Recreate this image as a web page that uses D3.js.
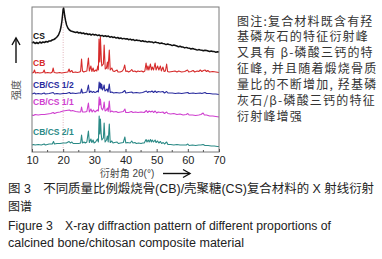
<!DOCTYPE html>
<html><head><meta charset="utf-8">
<script src="https://cdn.jsdelivr.net/npm/d3@7"></script>
<style>
html,body{margin:0;padding:0;background:#fff;}
svg{display:block;}
</style></head>
<body>
<svg id="c" width="382" height="259"></svg>
<script>
// ---- data (2θ in degrees, intensity in arbitrary stacked units) ----
const xTicks = [10, 20, 30, 40, 50, 60, 70];
const seriesNames = ["CS", "CB", "CB/CS 1/2", "CB/CS 1/1", "CB/CS 2/1"];
const seriesColors = ["#111111", "#d62b2b", "#2a2c9e", "#cf3fcf", "#2b8a86"];
const labelPos = [113, 86, 64, 47, 17]; // label heights in intensity units

const csData = [[10,109],[10.5,110],[11,108.5],[11.5,109.5],[12,108.5],[12.5,110],[13,109],[13.5,110],[14,109.5],[14.5,110.5],[15,110],[15.5,111],[16,111],[16.5,112],[17,112.5],[17.5,113.5],[18,115],[18.5,117],[19,121],[19.3,125],[19.6,131],[19.8,137],[20,143],[20.15,144],[20.3,141],[20.5,136],[20.8,131],[21.1,127],[21.5,124],[22,122],[22.5,121],[23,120.5],[23.5,120],[24,119.5],[24.5,120],[25,119],[25.5,119.5],[26,118.5],[26.5,119],[27,118],[27.5,118.5],[28,117.5],[28.5,118],[29,117],[29.5,117.8],[30,117],[30.5,117.5],[31,116.4],[31.5,117],[32,116],[32.5,116.6],[33,115.6],[33.5,116.2],[34,115.5],[34.5,115.9],[35,114.8],[35.5,115.4],[36,114.5],[36.5,114.9],[37,113.9],[37.5,114.5],[38,113.5],[38.5,114],[39,113.1],[39.5,113.6],[40,113],[40.5,113.3],[41,112.3],[41.5,112.9],[42,112],[42.5,112.4],[43,111.4],[43.5,112],[44,111.5],[44.5,111.6],[45,110.6],[45.5,111.2],[46,110.5],[46.5,110.7],[47,109.9],[47.5,110.5],[48,110],[48.5,110.1],[49,109.2],[49.5,109.9],[50,109.5],[50.5,109.3],[51,108.4],[51.5,109],[52,108.5],[52.5,108.2],[53,107.4],[53.5,108],[54,107.5],[54.5,107.2],[55,106.4],[55.5,107],[56,106.5],[56.5,106],[57,105.2],[57.5,105.8],[58,105],[58.5,104.9],[59,104.1],[59.5,104.6],[60,104],[60.5,103.8],[61,103],[61.5,103.5],[62,103],[62.5,102.6],[63,101.9],[63.5,102.4],[64,102],[64.5,101.8],[65,101.2],[65.5,101.8],[66,101.5],[66.5,101],[67,100.5],[67.5,101],[68,100.5],[68.5,100.4],[69,99.8],[69.5,100.3],[70,100]];

const cbData = [[10,79],[10.5,79.5],[10.8,82],[11.1,79],[11.8,79.5],[12.5,79],[13.5,79.5],[13.9,82],[14.2,79],[15,79.5],[16,79],[16.5,80],[16.8,84],[17.1,79.5],[18,79],[18.9,79.5],[19.5,79],[20.5,79.5],[21.5,80],[21.9,83],[22.2,80],[22.8,81.5],[23.1,79.5],[24,80],[24.5,79.5],[25.3,80],[25.6,81],[25.9,93],[26.2,81],[26.6,80],[27,80.5],[27.6,81],[28.1,94],[28.4,81],[28.9,86],[29.2,80.5],[29.6,84],[29.9,80.5],[30.5,82],[30.8,81],[31.1,86],[31.3,82],[31.5,113],[31.75,90],[31.95,115],[32.25,92],[32.4,86],[32.9,88],[33.15,107],[33.5,83],[33.9,84],[34.2,90],[34.4,83],[34.8,102],[35.1,82],[35.6,84],[36,81],[36.4,80.5],[37.3,82],[37.6,80],[38.3,80],[39,81],[39.4,83],[39.75,87],[40.1,80.5],[40.5,81],[41,80],[41.6,81],[42,82.5],[42.4,80.5],[43,81],[43.5,80],[44,81],[44.5,80.5],[45.2,81],[45.7,80],[46.2,81],[46.6,89],[46.9,82],[47.2,86],[47.5,82],[48,88],[48.3,82],[48.6,85],[49,82],[49.5,89],[49.8,82],[50.3,86],[50.7,82],[51.2,86],[51.5,81],[52,85],[52.4,80.5],[52.8,81],[53.2,88],[53.5,80.5],[54,80],[55,80.5],[55.9,81],[56.5,80],[57.1,81],[58,80],[59,80.5],[59.9,82],[60.3,80],[61,80.5],[61.7,81.5],[62.2,80],[63,81],[63.5,80.5],[64,82],[64.5,80.5],[65,81.5],[65.5,82],[66,80.5],[66.4,81.5],[67,80],[68,80.5],[69,80],[70,79.5]];

const cbcs12Data = [[10,58],[10.8,59],[11.2,58],[12,58.5],[13,58],[13.9,59],[14.3,58],[15.5,58.5],[16.8,59.5],[17.2,58],[18,58.5],[19,58],[20,58.5],[21,58.5],[22,59.5],[22.4,58.5],[23,59],[24,58.5],[25,59],[25.6,59],[25.9,63],[26.2,59],[27,59.5],[27.6,60],[28.1,67],[28.4,59.5],[28.9,61],[29.3,59.5],[29.7,60.5],[30.2,59.5],[30.6,60],[31,61],[31.3,60],[31.55,70],[31.75,64],[31.95,69],[32.15,63],[32.35,68],[32.6,62],[32.9,64],[33.15,67],[33.4,61],[33.8,62],[34.1,63],[34.4,60],[34.8,68],[35.1,59.5],[35.6,60],[36.2,59],[37,59.5],[38,59],[39,59.5],[39.8,61.5],[40.1,59],[41,59.5],[42,60],[42.4,59],[43.5,59.5],[44.5,59],[45.5,59.5],[46.7,61],[47.1,59.5],[47.5,60.5],[48,60],[48.5,61],[49,59.5],[49.5,61],[50,59.5],[50.5,60.5],[51.2,60],[52,60.5],[52.5,59],[53.2,60.5],[53.6,59],[55,59],[56,58.5],[57,59],[58,58.5],[59,59],[60,59.5],[60.4,58.5],[61.7,59],[62.5,58.5],[64,59],[64.5,58.5],[65.5,59.5],[66,58.5],[67,58.5],[68,58],[69,58],[70,57.5]];

const cbcs11Data = [[10,37],[10.5,36.5],[11,37.5],[12,37],[13,37.5],[14,37.5],[15,38],[16,38.5],[16.8,39.5],[17.2,38.5],[18,39.5],[19,40],[20,41],[21,41.5],[22,42],[22.5,41],[23,41.5],[24,40.5],[25,40],[25.6,40],[25.9,45],[26.2,40],[27,40],[27.6,40.5],[28.1,49],[28.4,40],[28.9,43],[29.3,40],[29.7,42],[30.2,40],[30.6,41],[31,42],[31.3,41],[31.55,55],[31.75,47],[31.95,53],[32.25,44],[32.6,42],[32.9,44],[33.15,50],[33.45,41],[33.9,42],[34.2,44],[34.45,40.5],[34.8,51],[35.1,40],[35.6,41],[36.2,40],[37,40.5],[37.6,39.5],[38.5,40],[39.3,40.5],[39.8,43],[40.1,39.5],[41,39.5],[41.9,40.5],[42.4,39.5],[43.2,40],[44,39.5],[45,40],[46,39.5],[46.7,41.5],[47.1,39.5],[47.6,41],[48.1,40],[48.6,41],[49,39.5],[49.5,41],[50,39],[50.5,40],[51.2,39.5],[52,40],[52.5,38.5],[53.2,40],[53.6,38.5],[54.5,38],[55.5,38.5],[56.5,37.5],[57.5,38],[58.5,37],[59.5,37.5],[60,38.5],[60.4,37],[61.5,37],[62.5,36.5],[63.5,37],[64.2,37.5],[64.9,39],[65.3,37],[66,37],[67,36],[68,36],[69,35.5],[70,35]];

const cbcs21Data = [[10,7],[10.5,7.5],[11,7],[12,7.5],[13,7],[13.9,8],[14.3,7],[15.5,8],[16.5,8],[16.9,10.5],[17.2,8],[18,8.5],[19,8.5],[20,9],[21,9],[21.9,10.5],[22.3,9],[22.8,10],[23.2,8.5],[24,8.5],[25,8.5],[25.6,9],[25.9,17],[26.2,9],[26.7,10],[27.1,9],[27.6,10],[28.1,21],[28.4,9.5],[28.9,13],[29.2,9.5],[29.6,12],[29.9,9],[30.4,10],[31,13],[31.3,10],[31.55,36],[31.75,18],[31.95,33],[32.2,18],[32.4,12],[32.9,14],[33.15,29],[33.45,10],[33.9,12],[34.2,16],[34.45,10],[34.8,28],[35.1,9.5],[35.6,11],[36,9],[36.5,9.5],[37.3,10],[37.7,8.5],[38.4,9],[39.3,9.5],[39.8,15],[40.1,9],[40.6,9.5],[41.5,9],[42,11],[42.4,9],[43,9.5],[43.5,8.5],[44.2,9],[45,8.5],[45.5,9],[46,9],[46.6,12.5],[46.9,10],[47.3,12],[47.6,10],[48,12.5],[48.3,10],[48.6,12],[49,10],[49.5,12],[49.8,9.5],[50.3,11],[50.7,9],[51.2,10.5],[51.6,8.5],[52.1,9.5],[52.5,8],[53.2,10],[53.6,7.5],[54.5,7.5],[55.5,7],[56.5,7.5],[57.5,7],[58.5,7],[59.5,7],[60,8],[60.4,6.5],[61.5,7],[62.5,6.5],[63.5,7],[64.2,7],[64.9,7.5],[65.5,6.5],[66.5,6.5],[67.5,6],[68.5,6],[69.5,5.5],[70,5.5]];

const noteLines = ["图注:复合材料既含有羟","基磷灰石的特征衍射峰","又具有 β-磷酸三钙的特","征峰, 并且随着煅烧骨质","量比的不断增加, 羟基磷","灰石/β-磷酸三钙的特征","衍射峰增强"];
const captionLines = ["图 3　不同质量比例煅烧骨(CB)/壳聚糖(CS)复合材料的 X 射线衍射","图谱","Figure 3　X-ray diffraction pattern of different proportions of","calcined bone/chitosan composite material"];

// ---- drawing ----
const svg = d3.select("#c");
const L = 32, R = 219, T = 7, B = 152;
const x = d3.scaleLinear().domain([10, 70]).range([L, R]);
const y = d3.scaleLinear().domain([0, 145]).range([B, T]);
const allData = [csData, cbData, cbcs12Data, cbcs11Data, cbcs21Data];

// dotted reference line at 20°
svg.append("line").attr("x1", x(20)).attr("x2", x(20)).attr("y1", T).attr("y2", B)
  .attr("stroke", "#d9a0a8").attr("stroke-width", 0.8).attr("stroke-dasharray", "1,1.5");

const line = d3.line().x(d => x(d[0])).y(d => y(d[1]));
allData.forEach((d, i) => {
  svg.append("path").datum(d).attr("d", line).attr("fill", "none")
    .attr("stroke", seriesColors[i]).attr("stroke-width", i === 0 ? 1.5 : 1.1)
    .attr("stroke-linejoin", "round");
});

// labels
seriesNames.forEach((n, i) => {
  svg.append("text").attr("x", 33).attr("y", y(labelPos[i]))
    .attr("fill", seriesColors[i]).attr("font-family", "Liberation Sans, Arial, sans-serif")
    .attr("font-weight", "bold").attr("font-size", 8.5).text(n);
});

// frame
svg.append("rect").attr("x", L).attr("y", T).attr("width", R - L).attr("height", B - T)
  .attr("fill", "none").attr("stroke", "#7a7a7a").attr("stroke-width", 1);

// axis
const ax = svg.append("g").attr("transform", `translate(0,${B})`)
  .call(d3.axisBottom(x).tickValues(xTicks).tickSize(-3).tickPadding(4).tickFormat(d3.format("d")));
ax.select(".domain").remove();
ax.selectAll(".tick line").attr("stroke", "#555");
ax.selectAll("text").attr("font-family", "Liberation Sans, Arial, sans-serif").attr("font-size", 11).attr("fill", "#222");
const minor = d3.range(15, 70, 10);
svg.selectAll(".minor").data(minor).enter().append("line")
  .attr("x1", d => x(d)).attr("x2", d => x(d)).attr("y1", B).attr("y2", B - 2)
  .attr("stroke", "#555");

// x axis title and arrow
svg.append("text").attr("x", 127).attr("y", 176.5).attr("text-anchor", "middle")
  .attr("font-family", "Liberation Sans, Noto Sans CJK SC, sans-serif").attr("font-size", 10).attr("fill", "#444")
  .text("衍射角 2θ(°)");
svg.append("line").attr("x1", 163).attr("x2", 190).attr("y1", 173.5).attr("y2", 173.5)
  .attr("stroke", "#111").attr("stroke-width", 1.4);
svg.append("path").attr("d", "M183,169.5 L190,173.5 L183,177.5").attr("fill", "none")
  .attr("stroke", "#111").attr("stroke-width", 1.4);

// y axis arrow and title
svg.append("line").attr("x1", 16).attr("x2", 16).attr("y1", 63).attr("y2", 38)
  .attr("stroke", "#111").attr("stroke-width", 1.4);
svg.append("path").attr("d", "M12,45 L16,38 L20,45").attr("fill", "none")
  .attr("stroke", "#111").attr("stroke-width", 1.4);
svg.append("text").attr("transform", "translate(19.5,90) rotate(-90)").attr("text-anchor", "middle")
  .attr("font-family", "Noto Sans CJK SC, sans-serif").attr("font-size", 10).attr("fill", "#555")
  .text("强度");

// note text
noteLines.forEach((t, i) => {
  svg.append("text").attr("x", 237).attr("y", 25.5 + i * 15.9)
    .attr("font-family", "Noto Sans CJK SC, sans-serif").attr("font-size", 12).attr("fill", "#333")
    .attr("letter-spacing", 1.2).text(t);
});

// caption
const capY = [193, 210.5, 229.5, 247];
const capW = [366, null, 323, 236];
captionLines.forEach((t, i) => {
  const el = svg.append("text").attr("x", 8).attr("y", capY[i])
    .attr("font-family", "Liberation Sans, Noto Sans CJK SC, Arial, sans-serif")
    .attr("font-size", 12).attr("fill", "#222").text(t);
  if (capW[i]) el.attr("textLength", capW[i]).attr("lengthAdjust", "spacingAndGlyphs");
});
</script>
</body></html>
